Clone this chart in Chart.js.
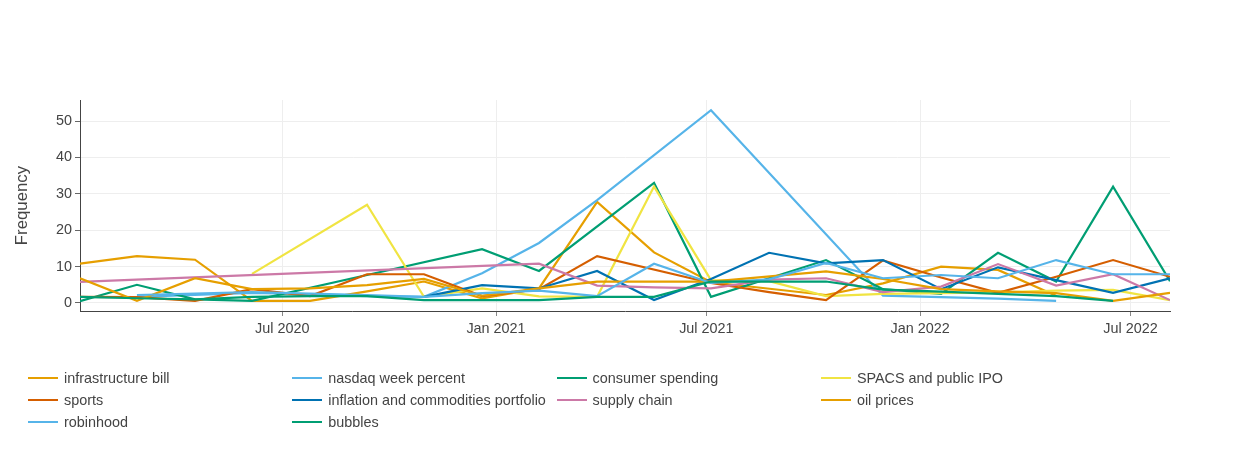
<!DOCTYPE html>
<html>
<head>
<meta charset="utf-8">
<script src="https://cdn.jsdelivr.net/npm/chart.js@4/dist/chart.umd.min.js"></script>
<style>
  html, body { margin: 0; padding: 0; background: #fff; }
  #wrap { position: relative; width: 1250px; height: 450px; }
  #legend { position: absolute; left: 0; top: 0; width: 1250px; height: 450px; pointer-events: none;
            font-family: "Liberation Sans", Arial, sans-serif; font-size: 14.4px; color: #444; }
  .item { position: absolute; display: flex; align-items: center; height: 20px; white-space: nowrap; }
  .swatch { width: 30px; height: 2px; margin-right: 6px; }
</style>
</head>
<body>
<div id="wrap">
  <canvas id="c" width="1250" height="450"></canvas>
  <div id="legend"></div>
</div>
<script>
// ---- data ----
const dates = ['2020-01-09','2020-02-27','2020-04-17','2020-06-05','2020-07-25','2020-09-12','2020-10-31','2020-12-20',
               '2021-02-07','2021-03-29','2021-05-17','2021-07-05','2021-08-24','2021-10-12','2021-11-30',
               '2022-01-19','2022-03-09','2022-04-28','2022-06-16','2022-08-04'];

const seriesNames = ['infrastructure bill','nasdaq week percent','consumer spending','SPACS and public IPO',
                     'sports','inflation and commodities portfolio','supply chain','oil prices','robinhood','bubbles'];

const infrastructureBill = [10.8, 12.9, 11.9, 0.6, 0.6, 3.2, 5.9, 1.3, 4.0, 27.8, 13.9, 5.7, null, 2.2, 5.4, 10.0, 9.1, 2.0, null, null];
const nasdaqWeekPercent  = [null, 1.7, null, 2.8, 2.4, 1.9, 1.7, 8.2, 16.5, 28.3, null, 53.0, null, null, 2.0, 1.6, 1.2, 0.6, null, null];
const consumerSpending   = [0.5, 5.0, 1.0, 0.6, null, 7.7, null, 14.8, 8.8, null, 33.0, 1.7, null, 11.8, 3.8, 2.5, 13.8, 5.9, 32.0, 6.0];
const spacsPublicIpo     = [null, null, null, 8.0, null, 27.0, 1.7, 4.0, 1.8, 1.7, 32.0, 6.3, 6.0, 1.9, 2.5, 2.7, 2.9, 3.4, 3.6, 0.8];
const sports             = [1.7, 1.6, 0.6, 3.8, 1.9, 7.9, 7.9, 1.9, 3.8, 12.9, null, 5.5, 3.0, 0.8, 11.7, 7.0, 2.8, 7.2, 11.8, 7.2];
const inflationPortfolio = [null, null, null, null, null, null, 1.7, 4.9, 4.0, 8.8, 0.8, 6.6, 13.8, 10.9, 11.8, 3.8, 9.8, 6.3, 2.8, 6.8];
const supplyChain        = [5.8, null, null, null, null, null, null, null, 10.8, 4.8, 4.3, 4.0, 6.4, 6.8, 3.0, 4.5, 10.7, 4.8, 7.9, 0.8];
const oilPrices          = [6.8, 0.6, 6.8, 3.8, 4.0, 4.9, 6.6, 2.0, 4.0, 5.9, 5.9, 5.9, null, 8.7, 6.6, 3.8, 3.2, 2.7, 0.6, 2.8];
const robinhood          = [null, 2.2, null, 3.0, null, 2.2, 1.7, 2.7, 3.4, 1.9, 10.8, 5.5, 6.5, 11.0, 6.8, 7.7, 6.8, 11.8, 7.9, 7.9];
const bubbles            = [1.7, 1.3, 1.0, 1.7, 1.9, 1.9, 0.8, 0.8, 0.8, 1.7, 1.7, 5.9, 5.9, 5.9, 3.7, 3.1, 2.5, 1.9, 0.6, null];

const xTickDates  = ['2020-07-01','2021-01-01','2021-07-01','2022-01-01','2022-07-01'];
const xTickLabels = ['Jul 2020','Jan 2021','Jul 2021','Jan 2022','Jul 2022'];
const yTicks = [0, 10, 20, 30, 40, 50];

// ---- styling ----
const colors = ['#E69F00','#56B4E9','#009E73','#F0E442','#D55E00','#0072B2','#CC79A7','#E69F00','#56B4E9','#009E73'];
const allSeries = [infrastructureBill, nasdaqWeekPercent, consumerSpending, spacsPublicIpo, sports,
                   inflationPortfolio, supplyChain, oilPrices, robinhood, bubbles];
const FONT = '"Liberation Sans", Arial, sans-serif';
const xs = dates.map(d => Date.parse(d + 'T00:00:00Z'));

const datasets = allSeries.map((vals, i) => ({
  label: seriesNames[i],
  data: vals.map((v, j) => v === null ? null : { x: xs[j], y: v }).filter(p => p !== null),
  borderColor: colors[i],
  backgroundColor: colors[i],
  borderWidth: 2.2,
  pointRadius: 0,
  tension: 0,
  fill: false,
  order: allSeries.length - i
}));

const tickVals = xTickDates.map(d => Date.parse(d + 'T00:00:00Z'));

new Chart(document.getElementById('c'), {
  type: 'line',
  data: { datasets },
  options: {
    responsive: false,
    animation: false,
    layout: { padding: { left: 0, right: 80, top: 100, bottom: 99 } },
    plugins: { legend: { display: false }, tooltip: { enabled: false } },
    scales: {
      x: {
        type: 'linear',
        min: xs[0],
        max: xs[xs.length - 1],
        afterBuildTicks: s => { s.ticks = tickVals.map(v => ({ value: v })); },
        afterFit: s => { s.height = 40; },
        ticks: {
          autoSkip: false, maxRotation: 0, padding: 4,
          color: '#444', font: { family: FONT, size: 14.4 },
          callback: (v) => { const k = tickVals.indexOf(v); return k >= 0 ? xTickLabels[k] : ''; }
        },
        grid: { color: '#eee', lineWidth: 1, drawTicks: true, tickLength: 5, tickColor: '#888' },
        border: { display: true, color: '#444', width: 1 }
      },
      y: {
        min: -2.2,
        max: 55.8,
        afterBuildTicks: s => { s.ticks = yTicks.map(v => ({ value: v })); },
        afterFit: s => { s.width = 80; },
        ticks: { autoSkip: false, padding: 3, color: '#444', font: { family: FONT, size: 14.4 } },
        grid: { color: '#eee', lineWidth: 1, drawTicks: true, tickLength: 5, tickColor: '#666' },
        border: { display: true, color: '#444', width: 1 },
        title: { display: true, text: 'Frequency', color: '#444', font: { family: FONT, size: 16.8 },
                 padding: { top: 12, bottom: 0 } }
      }
    }
  }
});

// ---- HTML legend (4 columns) ----
const legend = document.getElementById('legend');
seriesNames.forEach((name, i) => {
  const col = i % 4, row = Math.floor(i / 4);
  const el = document.createElement('div');
  el.className = 'item';
  el.style.left = (28 + col * 264.3) + 'px';
  el.style.top = (368 + row * 22) + 'px';
  const sw = document.createElement('span');
  sw.className = 'swatch';
  sw.style.background = colors[i];
  const tx = document.createElement('span');
  tx.textContent = name;
  el.appendChild(sw); el.appendChild(tx);
  legend.appendChild(el);
});
</script>
</body>
</html>
